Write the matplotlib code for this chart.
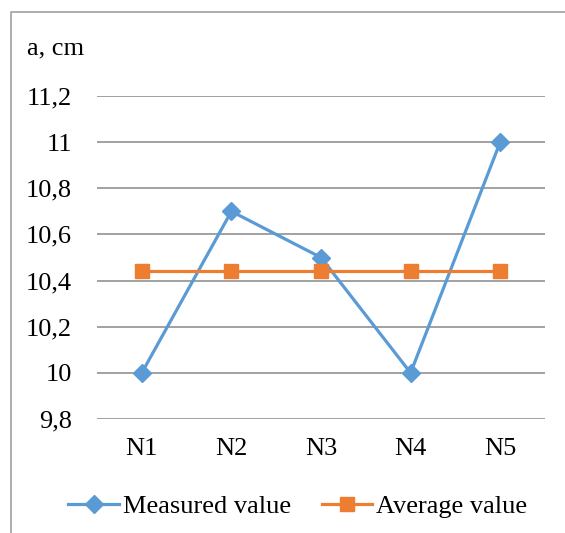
import matplotlib
matplotlib.use("Agg")
import matplotlib.pyplot as plt
from matplotlib.lines import Line2D

# measurements of a (cm) for five trials
trials = ["N1", "N2", "N3", "N4", "N5"]
measured = [10.0, 10.7, 10.5, 10.0, 11.0]
average = [10.44, 10.44, 10.44, 10.44, 10.44]
yticks = [9.8, 10.0, 10.2, 10.4, 10.6, 10.8, 11.0, 11.2]

plt.rcParams['font.family'] = ['Liberation Serif', 'DejaVu Serif']
fs = 19

W, H = 565, 533
fig = plt.figure(figsize=(W / 100, H / 100), dpi=100)
ax = fig.add_axes([97 / W, 1 - 419 / H, 448 / W, (419 - 96) / H])

x = list(range(len(trials)))
ax.plot(x, measured, color='#5B9BD5', lw=2.3, marker='D', ms=9,
        label='Measured value', zorder=3)
ax.plot(x, average, color='#ED7D31', lw=2.3, marker='s', ms=10,
        label='Average value', zorder=3)

ax.set_xlim(-0.5, len(trials) - 0.5)
ax.set_ylim(9.8, 11.2)
ax.set_yticks(yticks)
ax.set_yticklabels([('%g' % v).replace('.', ',') for v in yticks], fontsize=fs)
ax.set_xticks(x)
ax.set_xticklabels(trials, fontsize=fs)
ax.tick_params(axis='y', length=0, pad=18)
ax.tick_params(axis='x', length=0, pad=14)
for s in ax.spines.values():
    s.set_visible(False)
ax.grid(axis='y', color='#9a9a9a', lw=1.3, zorder=0)
ax.set_axisbelow(True)

fig.text(27 / W, 1 - 48 / H, 'a, cm', fontsize=fs, va='center', ha='left')

ax.legend(loc='center', bbox_to_anchor=(298 / W, 1 - 506 / H),
          bbox_transform=fig.transFigure, ncol=2, frameon=False,
          fontsize=fs, handlelength=1.9, handletextpad=0.15,
          columnspacing=1.2, borderpad=0, borderaxespad=0)

# chart border (top and left edges)
fig.add_artist(Line2D([11 / W, 11 / W, 1], [0, 1 - 12 / H, 1 - 12 / H],
                      transform=fig.transFigure, color='#a0a0a0', lw=1.2))

fig.savefig('out.png', dpi=100)
